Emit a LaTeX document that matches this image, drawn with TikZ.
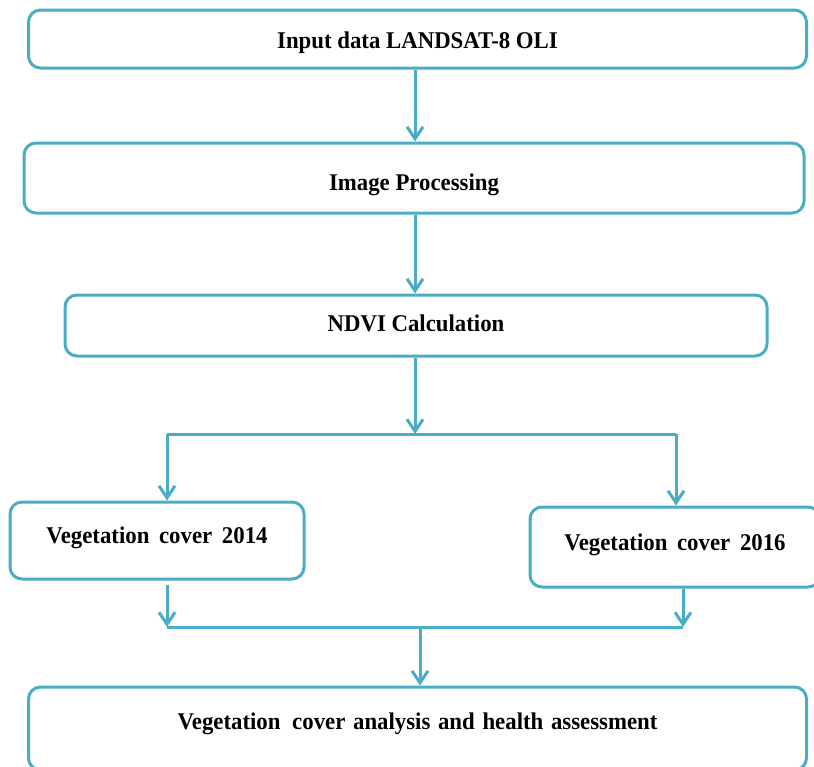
\documentclass[tikz,border=0pt]{standalone}
\usepackage{fontspec}
\setmainfont{Liberation Serif}
\newfontfamily\diagfont[FakeStretch=0.95]{Liberation Serif}
\usetikzlibrary{arrows.meta}
\definecolor{flowblue}{HTML}{4BACC6}
\tikzset{
  box/.style={draw=flowblue, line width=3pt, rounded corners=12pt, fill=white,
    inner sep=0pt, font=\diagfont\fontsize{24}{28}\selectfont\bfseries,
    text depth=0pt},
  flow/.style={draw=flowblue, line width=3pt, -{Straight Barb[length=12pt,width=16pt,line width=3pt]}},
  joinline/.style={draw=flowblue, line width=3pt}
}
\begin{document}
\begin{tikzpicture}[x=1pt,y=-1pt]
\useasboundingbox (0,0) rectangle (814,766);
\node[box, minimum width=778pt, minimum height=58pt, text height=18.6pt] (input) at (417.5,39) {Input data LANDSAT-8 OLI};
\node[box, minimum width=780pt, minimum height=70pt, text height=24pt] (proc) at (414,178) {Image Processing};
\node[box, minimum width=702pt, minimum height=61pt, text height=11pt] (ndvi) at (416,325.5) {NDVI Calculation};
\node[box, minimum width=294pt, minimum height=77pt, text height=5pt] (veg14) at (157,540.5) {Vegetation\hspace{4pt} cover\hspace{4pt} 2014};
\node[box, minimum width=290pt, minimum height=80pt, text height=6pt] (veg16) at (675,547) {Vegetation\hspace{4pt} cover\hspace{4pt} 2016};
\node[box, minimum width=778pt, minimum height=83pt, text height=1pt] (anal) at (417.5,728.5) {Vegetation\hspace{6pt} cover\hspace{2pt} analysis\hspace{2pt} and\hspace{2pt} health\hspace{2pt} assessment};

\coordinate (split) at (415,434);
\coordinate (splitL) at (167,434);
\coordinate (splitR) at (676,434);
\coordinate (mergeL) at (167,627);
\coordinate (mergeR) at (683,627);
\coordinate (merge) at (420,627);

\draw[flow] (input.south -| split) -- (proc.north -| split);
\draw[flow] (proc.south -| split) -- (ndvi.north -| split);
\draw[flow] (ndvi.south -| split) -- (split);
\draw[joinline] (splitL) -- (splitR);
\draw[flow] (splitL) -- (veg14.north -| splitL);
\draw[flow] (splitR) -- (veg16.north -| splitR);
\draw[flow] ([yshift=-4pt]veg14.south -| mergeL) -- (mergeL);
\draw[flow] (veg16.south -| mergeR) -- (mergeR);
\draw[joinline] (mergeL) -- (mergeR);
\draw[flow] (merge) -- (anal.north -| merge);
\end{tikzpicture}
\end{document}
